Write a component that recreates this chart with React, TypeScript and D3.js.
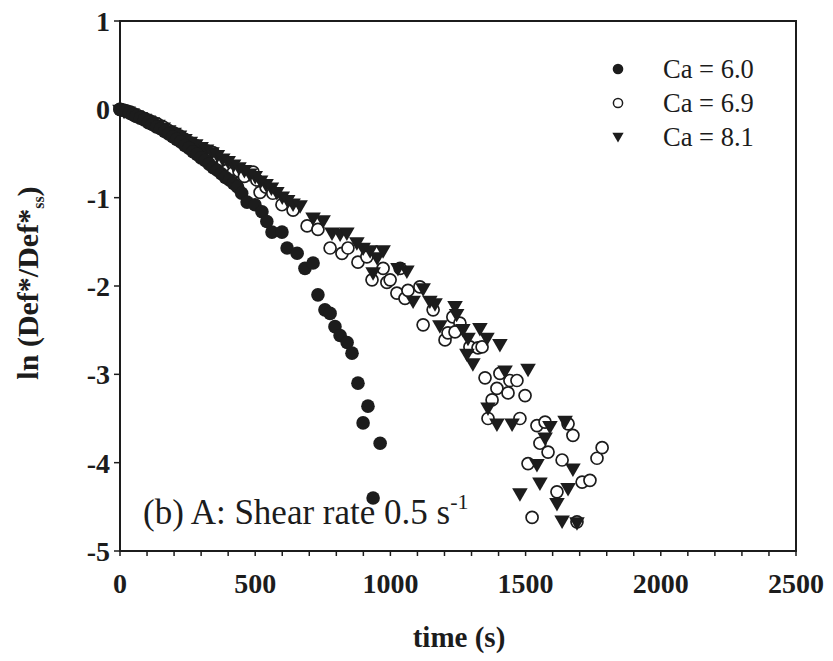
import React from "react";
import * as d3 from "d3";

// ---- data (time in s, ln(Def*/Def*ss)) ----
const ca60T = [0, 10, 22, 35, 48, 60, 75, 90, 105, 120, 135, 150, 165, 180, 195, 210, 225, 240, 255, 270, 285, 300, 315, 330, 345, 360, 375, 390, 405, 420, 435, 450, 470, 499, 525, 543, 562, 599, 618, 655, 684, 714, 732, 758, 777, 795, 814, 840, 858, 880, 917, 899, 962, 936];
const ca60V = [0, -0.01, -0.02, -0.04, -0.06, -0.08, -0.1, -0.12, -0.15, -0.17, -0.2, -0.22, -0.25, -0.28, -0.31, -0.34, -0.37, -0.41, -0.44, -0.48, -0.51, -0.55, -0.58, -0.62, -0.66, -0.69, -0.73, -0.77, -0.8, -0.84, -0.88, -0.95, -1.05, -1.08, -1.16, -1.27, -1.39, -1.39, -1.57, -1.63, -1.8, -1.74, -2.1, -2.27, -2.31, -2.46, -2.56, -2.64, -2.76, -3.1, -3.36, -3.55, -3.78, -4.4];

const ca69T = [0, 12, 25, 38, 50, 65, 80, 95, 110, 125, 140, 160, 180, 200, 220, 240, 260, 280, 300, 320, 344, 360, 380, 396, 418, 440, 460, 492, 506, 518, 540, 565, 599, 640, 692, 732, 777, 821, 843, 880, 913, 932, 973, 987, 999, 1024, 1036, 1054, 1065, 1109, 1121, 1158, 1202, 1213, 1231, 1257, 1239, 1294, 1324, 1339, 1350, 1394, 1405, 1435, 1442, 1468, 1498, 1376, 1361, 1479, 1542, 1572, 1675, 1553, 1583, 1635, 1509, 1616, 1709, 1738, 1764, 1783, 1524, 1690, 1657];
const ca69V = [0, -0.01, -0.02, -0.03, -0.05, -0.07, -0.09, -0.11, -0.13, -0.15, -0.17, -0.2, -0.24, -0.27, -0.3, -0.34, -0.38, -0.41, -0.45, -0.47, -0.49, -0.55, -0.6, -0.69, -0.72, -0.7, -0.76, -0.71, -0.8, -0.94, -0.88, -0.95, -1.08, -1.14, -1.32, -1.36, -1.57, -1.63, -1.57, -1.73, -1.67, -1.93, -1.8, -1.96, -1.93, -2.08, -1.8, -2.14, -2.05, -2.01, -2.44, -2.27, -2.61, -2.53, -2.35, -2.42, -2.52, -2.69, -2.7, -2.69, -3.04, -3.16, -2.99, -3.21, -3.07, -3.07, -3.24, -3.29, -3.5, -3.5, -3.58, -3.54, -3.69, -3.78, -3.88, -3.97, -4.01, -4.33, -4.22, -4.2, -3.95, -3.83, -4.62, -4.67, -3.56];

const ca81T = [0, 15, 30, 45, 60, 75, 90, 105, 120, 140, 160, 180, 200, 220, 240, 260, 280, 300, 320, 340, 360, 380, 400, 420, 440, 460, 480, 500, 520, 540, 560, 580, 600, 620, 640, 666, 714, 751, 784, 814, 839, 876, 899, 925, 951, 973, 936, 1028, 1061, 1084, 1121, 1146, 1165, 1183, 1239, 1245, 1268, 1287, 1283, 1305, 1331, 1357, 1405, 1361, 1394, 1424, 1509, 1450, 1590, 1572, 1542, 1675, 1553, 1479, 1616, 1657, 1635, 1690, 1646];
const ca81V = [0, -0.01, -0.02, -0.04, -0.06, -0.08, -0.1, -0.12, -0.14, -0.17, -0.2, -0.23, -0.26, -0.29, -0.33, -0.36, -0.39, -0.42, -0.45, -0.48, -0.51, -0.55, -0.58, -0.62, -0.65, -0.68, -0.72, -0.75, -0.8, -0.84, -0.88, -0.93, -0.98, -1.02, -1.06, -1.08, -1.22, -1.25, -1.39, -1.4, -1.39, -1.5, -1.56, -1.59, -1.67, -1.59, -1.84, -1.79, -1.82, -2.16, -2.02, -2.16, -2.19, -2.44, -2.22, -2.31, -2.48, -2.58, -2.76, -2.87, -2.47, -2.58, -2.65, -3.37, -3.55, -2.95, -2.93, -3.55, -3.58, -3.71, -4.01, -4.06, -4.22, -4.34, -4.45, -4.28, -4.65, -4.67, -3.52];

const xTicks = [0, 500, 1000, 1500, 2000, 2500];
const yTicks = [1, 0, -1, -2, -3, -4, -5];
const legendLabels = ["Ca = 6.0", "Ca = 6.9", "Ca = 8.1"];

const INK = "#1c1c1c";
const serif = "'Liberation Serif', 'Times New Roman', serif";

export default function App() {
  const left = 120, right = 796, top = 21, bottom = 551;
  const x = d3.scaleLinear().domain([0, 2500]).range([left, right]);
  const y = d3.scaleLinear().domain([-5, 1]).range([bottom, top]);
  const minor = d3.range(0, 2501, 100);
  const tri = d3.symbol().type(d3.symbolTriangle).size(105)();

  const pts = (T: number[], V: number[]) => T.map((t, i) => ({ t, v: V[i] }));

  return (
    <svg width={833} height={661} style={{ position: "absolute", left: 0, top: 0, background: "#fff" }} fontFamily={serif}>
      <rect x={0} y={0} width={833} height={661} fill="#fff" />
      {/* frame */}
      <rect x={left} y={top} width={right - left} height={bottom - top} fill="none" stroke={INK} strokeWidth={2} />
      {/* bottom ticks */}
      {minor.map((t) => (
        <line key={"bx" + t} x1={x(t)} x2={x(t)} y1={bottom} y2={bottom + 5} stroke={INK} strokeWidth={1.5} />
      ))}
      {yTicks.map((v) => (
        <line key={"ly" + v} x1={left - 6} x2={left} y1={y(v)} y2={y(v)} stroke={INK} strokeWidth={1.5} />
      ))}
      {/* tick labels */}
      {xTicks.map((t) => (
        <text key={"xl" + t} x={x(t)} y={593} textAnchor="middle" fontWeight="bold" fontSize={28} fill={INK}>
          {t}
        </text>
      ))}
      {yTicks.map((v) => (
        <text key={"yl" + v} x={110} y={y(v) + 10} textAnchor="end" fontWeight="bold" fontSize={28} fill={INK}>
          {v}
        </text>
      ))}
      {/* axis titles */}
      <text x={459} y={647} textAnchor="middle" fontWeight="bold" fontSize={29} fill={INK}>
        time (s)
      </text>
      <text transform="translate(38,283) rotate(-90)" textAnchor="middle" fontWeight="bold" fontSize={30} fill={INK}>
        ln (Def*/Def*<tspan fontSize={16} dy={6}>ss</tspan><tspan dy={-6}>)</tspan>
      </text>
      {/* data */}
      {pts(ca69T, ca69V).map((d, i) => (
        <circle key={"b" + i} cx={x(d.t)} cy={y(d.v)} r={6} fill="#fff" stroke={INK} strokeWidth={1.7} />
      ))}
      {pts(ca81T, ca81V).map((d, i) => (
        <path key={"c" + i} d={tri} transform={`translate(${x(d.t)},${y(d.v)}) rotate(180)`} fill={INK} />
      ))}
      {pts(ca60T, ca60V).map((d, i) => (
        <circle key={"a" + i} cx={x(d.t)} cy={y(d.v)} r={6.8} fill={INK} />
      ))}
      {/* legend */}
      <circle cx={618} cy={69} r={5.3} fill={INK} />
      <circle cx={618} cy={103} r={4.6} fill="#fff" stroke={INK} strokeWidth={1.5} />
      <path d={d3.symbol().type(d3.symbolTriangle).size(55)()} transform="translate(618,136) rotate(180)" fill={INK} />
      {legendLabels.map((s, i) => (
        <text key={s} x={663} y={78 + i * 34} fontSize={26.5} fill={INK}>
          {s}
        </text>
      ))}
      {/* annotation */}
      <text x={143} y={524} fontSize={35} fill={INK}>
        (b) A: Shear rate 0.5 s<tspan fontSize={22} dy={-15}>-1</tspan>
      </text>
    </svg>
  );
}
